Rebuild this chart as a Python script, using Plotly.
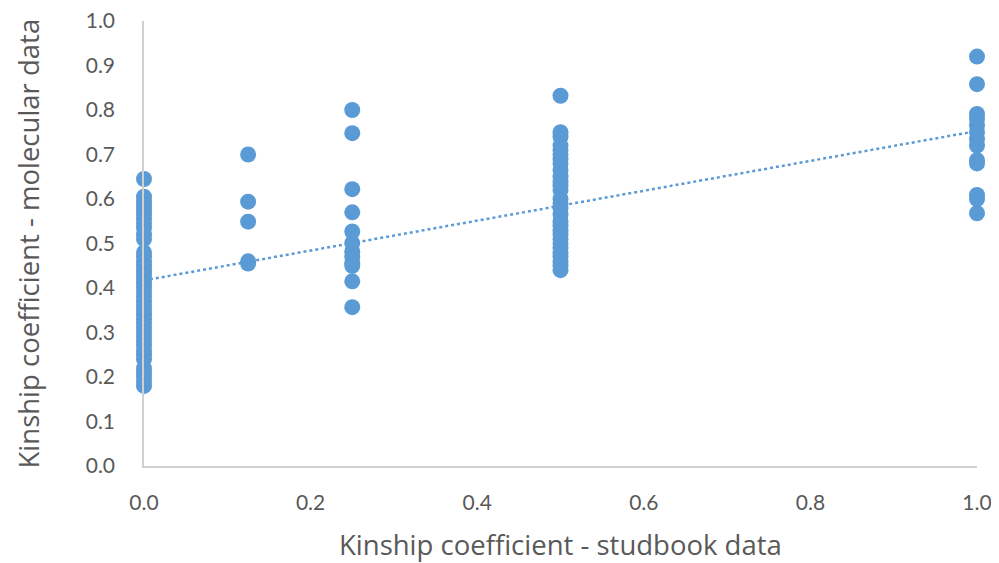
import numpy as np
import plotly.graph_objects as go

# studbook kinship groups and molecular kinship values
y_x0 = [0.645, 0.605, 0.595, 0.585, 0.575, 0.565, 0.555, 0.545, 0.535, 0.52, 0.51,
        0.48, 0.47, 0.46, 0.45, 0.44, 0.43, 0.42, 0.41, 0.40, 0.39, 0.38, 0.37,
        0.36, 0.35, 0.34, 0.33, 0.32, 0.31, 0.30, 0.29, 0.28, 0.27, 0.26, 0.25,
        0.24, 0.22, 0.21, 0.20, 0.19, 0.18]
y_x0125 = [0.70, 0.594, 0.549, 0.46, 0.455]
y_x025 = [0.80, 0.748, 0.622, 0.570, 0.527, 0.501, 0.482, 0.47, 0.456, 0.45, 0.415, 0.357]
y_x05 = [0.832, 0.75, 0.74, 0.72, 0.71, 0.70, 0.69, 0.68, 0.665, 0.65, 0.64, 0.63,
         0.62, 0.60, 0.59, 0.58, 0.565, 0.55, 0.54, 0.53, 0.52, 0.51, 0.50, 0.49,
         0.48, 0.47, 0.46, 0.45, 0.44]
y_x1 = [0.92, 0.858, 0.791, 0.78, 0.765, 0.75, 0.735, 0.72, 0.687, 0.68, 0.609, 0.60, 0.568]

groups = [(0.0, y_x0), (0.125, y_x0125), (0.25, y_x025), (0.5, y_x05), (1.0, y_x1)]
xs, ys = [], []
for gx, gy in groups:
    xs += [gx] * len(gy)
    ys += gy

x_ticks = [0.0, 0.2, 0.4, 0.6, 0.8, 1.0]
y_ticks = [round(0.1 * i, 1) for i in range(11)]

slope, intercept = np.polyfit(xs, ys, 1)
trend_x = [0.0, 1.0]
trend_y = [intercept + slope * t for t in trend_x]

blue = "#5B9BD5"
grey = "#595959"
fig = go.Figure()
fig.add_trace(go.Scatter(x=trend_x, y=trend_y, mode="lines",
                         line=dict(color=blue, width=2.5, dash="dot"),
                         hoverinfo="skip", showlegend=False))
fig.add_trace(go.Scatter(x=xs, y=ys, mode="markers",
                         marker=dict(color=blue, size=16, line=dict(width=0)),
                         showlegend=False, cliponaxis=False))

tick_font = dict(family="Lato, sans-serif", size=21, color=grey)
title_font = dict(family="'Open Sans', sans-serif", size=27.5, color=grey)

plot_h = 555 - 13 - 97
fig.update_layout(
    width=991, height=555,
    margin=dict(l=136, r=22, t=13, b=97),
    paper_bgcolor="white", plot_bgcolor="white",
    xaxis=dict(range=[0, 1], tickvals=x_ticks, ticktext=[f"{v:.1f}" for v in x_ticks],
               showgrid=False, zeroline=False, showline=True, linecolor="#D0D0D0",
               linewidth=1.5, ticks="", tickfont=tick_font, automargin=False,
               ticklabelstandoff=17, ticklabeloverflow="allow"),
    yaxis=dict(range=[0, 1], tickvals=y_ticks, ticktext=[f"{v:.1f}" for v in y_ticks],
               showgrid=False, zeroline=False, showline=True, linecolor="#D0D0D0",
               linewidth=1.5, ticks="", tickfont=tick_font, automargin=False,
               ticklabelstandoff=23, ticklabeloverflow="allow"),
    annotations=[
        dict(text="Kinship coefficient - studbook data", xref="paper", yref="paper",
             x=0.5, y=-78 / plot_h, xanchor="center", yanchor="middle",
             showarrow=False, font=title_font),
        dict(text="Kinship coefficient - molecular data", xref="paper", yref="paper",
             x=-(144 - 28) / 833, y=0.5, xanchor="center", yanchor="middle",
             textangle=-90, showarrow=False, font=title_font),
    ],
)
fig.write_html("out.html")
